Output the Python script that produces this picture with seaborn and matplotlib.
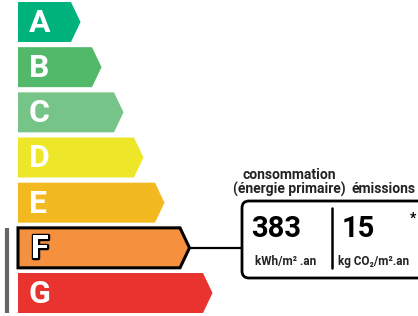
import matplotlib
matplotlib.use("Agg")
import matplotlib.pyplot as plt
import matplotlib.patheffects as pe
from matplotlib.patches import Polygon, FancyBboxPatch
import seaborn as sns
import pandas as pd

# DPE label data
classes = ["A", "B", "C", "D", "E", "F", "G"]
bar_len = [53, 74, 96, 116, 137, 162, 185]
colors = ["#00b27b", "#52b96b", "#77c489", "#eee628", "#f3b920", "#f5913e", "#e8332f"]
current = "F"
conso_value = "383"
emis_value = "15"
conso_unit = "kWh/m² .an"
emis_unit = "kg CO₂/m².an"

sns.set_style("white")
plt.rcParams["font.family"] = ["Roboto", "DejaVu Sans"]

df = pd.DataFrame({"classe": classes, "longueur": bar_len})

fig = plt.figure(figsize=(4.18, 3.16), dpi=100)
ax = fig.add_axes([0, 0, 1, 1])
sns.barplot(data=df, x="longueur", y="classe", hue="classe", palette=colors,
            orient="h", width=0.885, saturation=1, legend=False, ax=ax)
ax.set_xlim(-18, 400)
ax.set_ylim(6.509, -0.487)
ax.set_axis_off()

tip = 9.5
f_top = g_bot = None
for cls, cont in zip(classes, ax.containers):
    for bar in cont:
        x0, y0 = bar.get_x(), bar.get_y()
        w, h = bar.get_width(), bar.get_height()
        bar.set_visible(False)
        pts = [(x0, y0), (x0 + w, y0), (x0 + w + tip, y0 + h / 2),
               (x0 + w, y0 + h), (x0, y0 + h)]
        yc = y0 + h / 2
        if cls == current:
            ax.add_patch(Polygon(pts, closed=True, fc=bar.get_facecolor(),
                                 ec="black", lw=2.2, joinstyle="miter", zorder=3))
            ax.text(13, yc + 0.02, cls, color="white", fontsize=23, fontweight="bold",
                    ha="left", va="center", zorder=4,
                    path_effects=[pe.Stroke(linewidth=2.5, foreground="black"), pe.Normal()])
            ax.plot([x0 + w + tip, 224], [yc, yc], color="black", lw=1.6, zorder=2)
            f_top = y0
        else:
            ax.add_patch(Polygon(pts, closed=True, fc=bar.get_facecolor(),
                                 ec="none", zorder=3))
            ax.text(11, yc + 0.02, cls, color="white", fontsize=23, fontweight="bold",
                    ha="left", va="center", zorder=4)
        g_bot = y0 + h

# grey marker next to current class
ax.plot([-11, -11], [f_top, g_bot], color="#666666", lw=3, solid_capstyle="butt")

# value box, pixel coordinates
ax2 = fig.add_axes([0, 0, 1, 1])
ax2.set_xlim(0, 418)
ax2.set_ylim(316, 0)
ax2.set_axis_off()
ax2.patch.set_alpha(0)

box = FancyBboxPatch((242, 201), 200, 77, boxstyle="round,pad=0,rounding_size=7",
                     fc="white", ec="black", lw=2)
ax2.add_patch(box)
ax2.plot([332, 332], [208, 268], color="black", lw=1.8)

hdr = dict(fontsize=10, fontweight="bold", color="#222222", va="center")
ax2.text(289, 175, "consommation", ha="center", **hdr)
ax2.text(289, 189, "(énergie primaire)", ha="center", **hdr)
ax2.text(384, 189, "émissions", ha="center", **hdr)
ax2.text(251, 229, conso_value, ha="left", va="center", fontsize=21,
         fontweight="bold", color="black")
ax2.text(342, 229, emis_value, ha="left", va="center", fontsize=21,
         fontweight="bold", color="black")
ax2.text(413, 219, "*", ha="center", va="center", fontsize=10,
         fontweight="bold", color="black")
unit = dict(fontsize=8.5, fontweight="bold", color="#222222", va="center", ha="left")
ax2.text(255, 262, conso_unit, **unit)
ax2.text(338, 262, emis_unit, **unit)

fig.savefig("out.png", dpi=100)
